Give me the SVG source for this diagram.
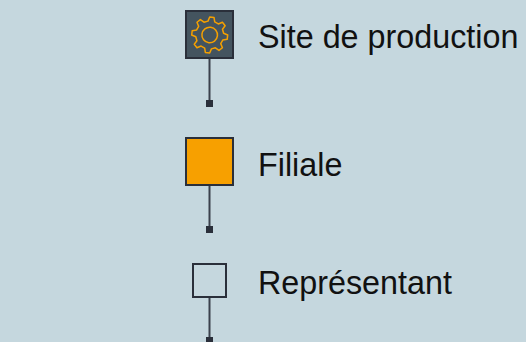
<svg xmlns="http://www.w3.org/2000/svg" width="526" height="342" viewBox="0 0 526 342">
<style>
.box{stroke:#2a2f3a;stroke-width:2}
.line{stroke:#3a404c;stroke-width:2;fill:none}
.end{fill:#2a2f3a}
.gear{fill:none;stroke:#f5a000;stroke-width:1.5;stroke-linejoin:round}
.label{font-family:"Liberation Sans",Arial,sans-serif;font-size:32.3px;fill:#111}
</style>
<rect width="526" height="342" fill="#c5d7de"/>
<g id="connectors">
<line class="line" x1="209.5" y1="59" x2="209.5" y2="102"/><rect class="end" x="206" y="100" width="7" height="7"/>
<line class="line" x1="209.5" y1="185" x2="209.5" y2="228"/><rect class="end" x="206" y="226" width="7" height="7"/>
<line class="line" x1="209.5" y1="297" x2="209.5" y2="340"/><rect class="end" x="206" y="337" width="7" height="5"/>
</g>
<g id="site">
<rect class="box" x="186" y="11" width="47" height="47" fill="#44545f"/>
<g transform="translate(209.7 35) rotate(7)">
<path class="gear" d="M-3.39-13.58L-2.19-17.87L2.19-17.87L3.39-13.58L7.21-12L11.09-14.18L14.18-11.09L12-7.21L13.58-3.39L17.87-2.19L17.87 2.19L13.58 3.39L12 7.21L14.18 11.09L11.09 14.18L7.21 12L3.39 13.58L2.19 17.87L-2.19 17.87L-3.39 13.58L-7.21 12L-11.09 14.18L-14.18 11.09L-12 7.21L-13.58 3.39L-17.87 2.19L-17.87-2.19L-13.58-3.39L-12-7.21L-14.18-11.09L-11.09-14.18L-7.21-12Z"/>
<circle class="gear" r="7.8"/>
</g>
<text class="label" x="258" y="48">Site de production</text>
</g>
<g id="filiale">
<rect class="box" x="186" y="138" width="47" height="47" fill="#f7a000"/>
<text class="label" x="258" y="176">Filiale</text>
</g>
<g id="representant">
<rect class="box" x="193" y="264" width="33" height="33" fill="none"/>
<text class="label" x="258" y="294">Représentant</text>
</g>
</svg>
